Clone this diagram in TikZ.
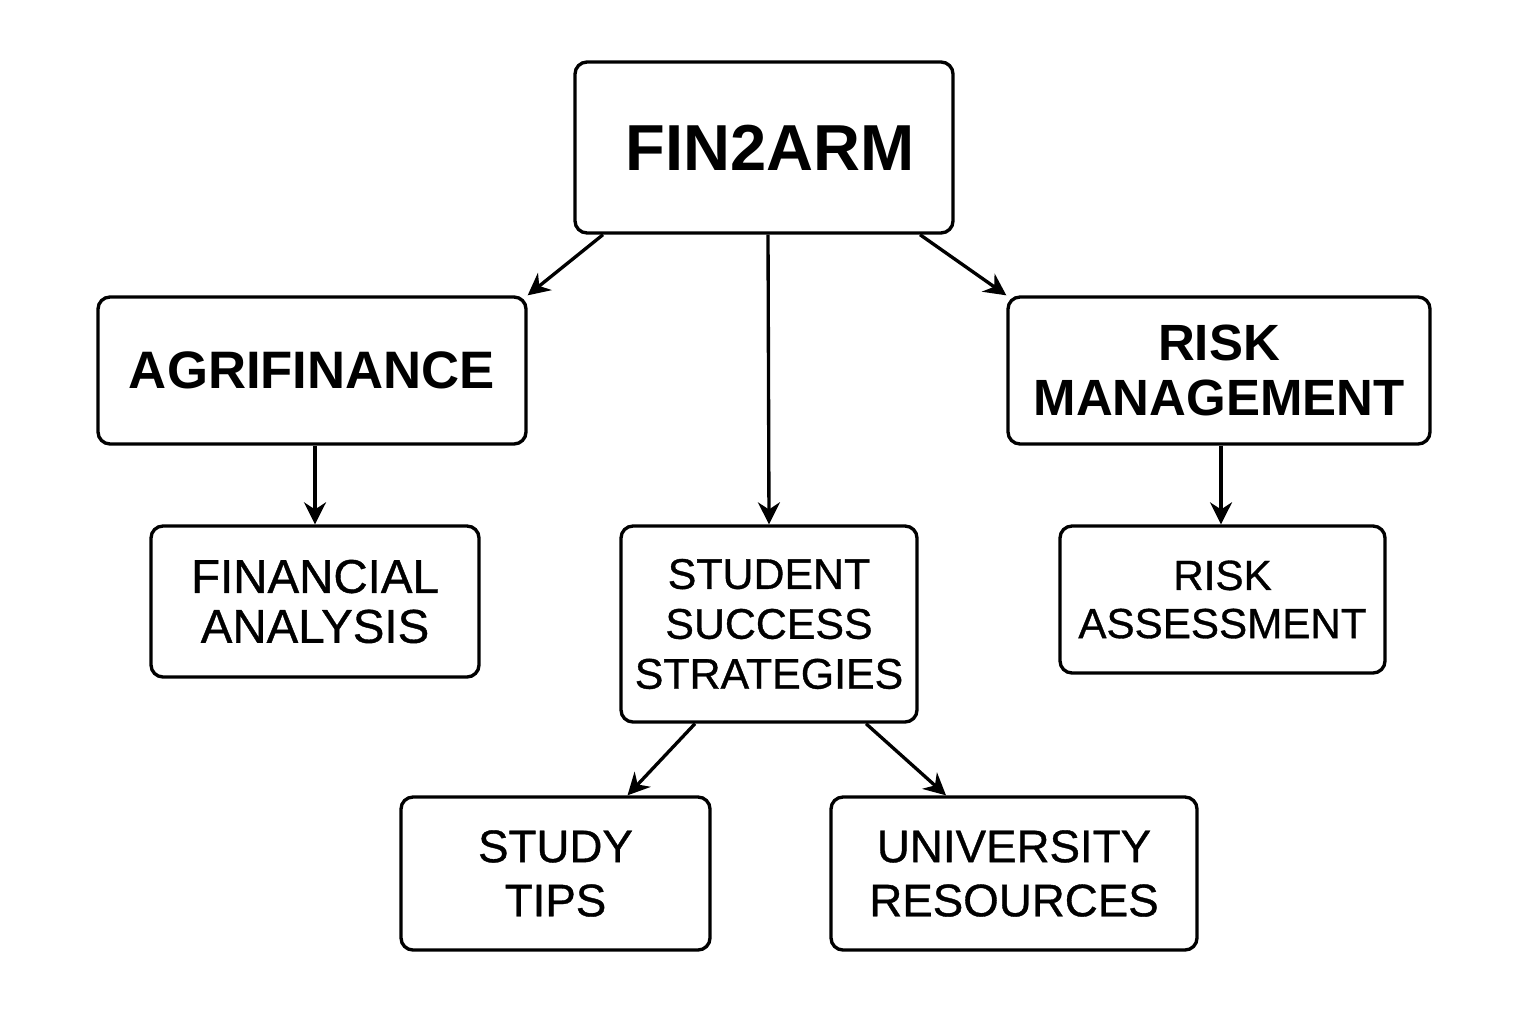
\documentclass[tikz,border=0pt]{standalone}
\usepackage{fontspec}
\setmainfont{Liberation Sans}
\newfontfamily\medfont{Liberation Sans}[FakeBold=0.8]
\usetikzlibrary{arrows.meta}

\begin{document}
\begin{tikzpicture}[box/.style = {draw, line width=0.95pt, rounded corners=1.2mm, align=center, inner sep=0pt},
	arr/.style = {line width=0.95pt, -{Stealth[length=2.2mm,width=2.2mm]}}]
	\useasboundingbox (0,0) rectangle (15.36,10.24);
	\node[box, minimum width=3.78cm, minimum height=1.71cm, font=\fontsize{18.5}{22}\selectfont\bfseries] (fin) at (7.64, 8.765){\hspace{1.2mm}FIN2ARM};
	\node[box, minimum width=4.28cm, minimum height=1.47cm, font=\fontsize{15}{18}\selectfont\bfseries] (agri) at (3.12, 6.535){AGRIFINANCE};
	\node[box, minimum width=4.22cm, minimum height=1.47cm, font=\fontsize{14.5}{15.6}\selectfont\bfseries] (risk) at (12.19, 6.535){RISK\\MANAGEMENT};
	\node[box, minimum width=3.28cm, minimum height=1.51cm, font=\fontsize{13.5}{14.2}\selectfont\medfont] (fa) at (3.15, 4.225){FINANCIAL\\ANALYSIS};
	\node[box, minimum width=2.96cm, minimum height=1.96cm, font=\fontsize{12.2}{14.2}\selectfont\medfont] (sss) at (7.69, 4.00){STUDENT\\SUCCESS\\STRATEGIES};
	\node[box, minimum width=3.25cm, minimum height=1.47cm, font=\fontsize{12}{13.7}\selectfont\medfont] (ra) at (12.225, 4.245){RISK\\ASSESSMENT};
	\node[box, minimum width=3.09cm, minimum height=1.53cm, font=\fontsize{13}{15.4}\selectfont\medfont] (tips) at (5.555, 1.505){STUDY\\TIPS};
	\node[box, minimum width=3.66cm, minimum height=1.53cm, font=\fontsize{13}{15.4}\selectfont\medfont] (univ) at (10.14, 1.505){UNIVERSITY\\RESOURCES};
	\draw[arr] ([xshift=-1.61cm]fin.south) -- (agri.north east);
	\draw[arr] ([xshift=0.04cm]fin.south) -- (sss.north);
	\draw[arr] ([xshift=1.56cm]fin.south) -- (risk.north west);
	\draw[arr] ([xshift=0.03cm]agri.south) -- ([xshift=0.03cm]agri.south |- fa.north);
	\draw[arr] ([xshift=0.02cm]risk.south) -- ([xshift=0.02cm]risk.south |- ra.north);
	\draw[arr] ([xshift=-0.74cm]sss.south) -- ([xshift=0.72cm]tips.north);
	\draw[arr] ([xshift=0.97cm]sss.south) -- ([xshift=-0.68cm]univ.north);
\end{tikzpicture}
\end{document}
